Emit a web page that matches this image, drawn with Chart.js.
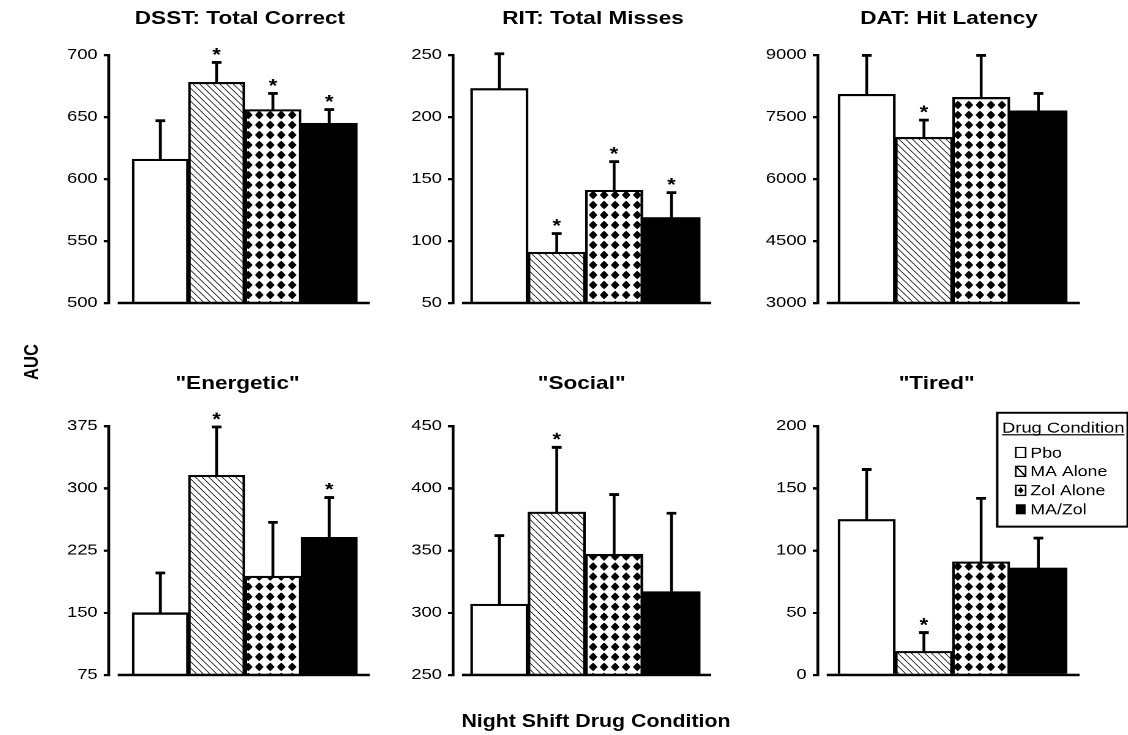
<!DOCTYPE html>
<html><head><meta charset="utf-8">
<script src="https://cdn.jsdelivr.net/npm/chart.js@4.4.1/dist/chart.umd.min.js"></script>
<style>
html,body{margin:0;padding:0;background:#fff;overflow:hidden;width:1128px;height:735px;}
#stage{position:absolute;left:0;top:0;width:925px;height:735px;transform:scaleX(1.22);transform-origin:0 0;
  font-family:"Liberation Sans",Arial,Helvetica,sans-serif;color:#000;}
.ttl{position:absolute;font-weight:bold;font-size:18.5px;white-space:nowrap;transform:translate(-50%,-50%);line-height:1;}
canvas{position:absolute;}
</style></head>
<body><div id="stage">
<div class="ttl" style="left:196.7px;top:18px">DSST: Total Correct</div>
<div class="ttl" style="left:486.1px;top:18px">RIT: Total Misses</div>
<div class="ttl" style="left:777.9px;top:18px">DAT: Hit Latency</div>
<div class="ttl" style="left:194.7px;top:383px">"Energetic"</div>
<div class="ttl" style="left:476.8px;top:383px">"Social"</div>
<div class="ttl" style="left:767.8px;top:383px">"Tired"</div>
<div class="ttl" style="left:24.6px;top:362px;font-size:16.5px;transform:translate(-50%,-50%) rotate(-90deg)">AUC</div>
<div class="ttl" style="left:488.5px;top:722px;font-size:17.5px">Night Shift Drug Condition</div>
</div>
<script>
// ---- data ----
const categories = ['Pbo', 'MA Alone', 'Zol Alone', 'MA/Zol'];

const dsstMean = [616, 678, 656, 645];
const dsstSem  = [31, 16, 13, 11];
const dsstSig  = [0, 1, 1, 1];
const dsstTicks = [500, 550, 600, 650, 700];

const ritMean = [223, 91, 141, 119];
const ritSem  = [28, 15, 23, 20];
const ritSig  = [0, 1, 1, 1];
const ritTicks = [50, 100, 150, 200, 250];

const datMean = [8050, 7010, 7975, 7650];
const datSem  = [940, 415, 1015, 420];
const datSig  = [0, 1, 0, 0];
const datTicks = [3000, 4500, 6000, 7500, 9000];

const energeticMean = [150, 316, 194, 241];
const energeticSem  = [48, 58, 65, 48];
const energeticSig  = [0, 1, 0, 1];
const energeticTicks = [75, 150, 225, 300, 375];

const socialMean = [307, 381, 347, 317];
const socialSem  = [55, 52, 48, 63];
const socialSig  = [0, 1, 0, 0];
const socialTicks = [250, 300, 350, 400, 450];

const tiredMean = [125, 19, 91, 86];
const tiredSem  = [40, 15, 51, 24];
const tiredSig  = [0, 1, 0, 0];
const tiredTicks = [0, 50, 100, 150, 200];

const legendTitle = 'Drug Condition';

// ---- layout (design units; stage is stretched horizontally) ----
const FONT = '"Liberation Sans", Arial, Helvetica, sans-serif';
const DPR = 2;
const YW = 70, PT = 25, PB = 15;
const cols = [
  {xa: 88.52, cw: 214.75, xmin: -0.919, xmax: 3.718},
  {xa: 371.31, cw: 211.48, xmin: -0.809, xmax: 3.692},
  {xa: 670.49, cw: 214.18, xmin: -0.856, xmax: 3.72}
];
const rows = [{yt: 54.5, ch: 248}, {yt: 426, ch: 248.5}];

// ---- patterns ----
function makeHatch() {
  const c = document.createElement('canvas');
  c.width = 11; c.height = 13;           // device pixels (DPR 2)
  const g = c.getContext('2d');
  g.fillStyle = '#fff'; g.fillRect(0, 0, c.width, c.height);
  g.strokeStyle = '#000'; g.lineWidth = 1.4;
  for (const k of [-c.width, 0, c.width]) {
    g.beginPath(); g.moveTo(k, 0); g.lineTo(k + c.width, c.height); g.stroke();
  }
  const p = g.createPattern(c, 'repeat');
  p.setTransform(new DOMMatrix().scale(1 / DPR));
  return p;
}
function makeDiamonds() {
  const c = document.createElement('canvas');
  c.width = 18; c.height = 20;
  const g = c.getContext('2d');
  g.fillStyle = '#fff'; g.fillRect(0, 0, c.width, c.height);
  g.fillStyle = '#000';
  const cx = c.width / 2, cy = c.height / 2, rx = 7.0, ry = 8.4, k = 0.35;
  g.beginPath();
  g.moveTo(cx, cy - ry);
  g.quadraticCurveTo(cx + rx * k * 1.6, cy - ry * k * 1.6, cx + rx, cy);
  g.quadraticCurveTo(cx + rx * k * 1.6, cy + ry * k * 1.6, cx, cy + ry);
  g.quadraticCurveTo(cx - rx * k * 1.6, cy + ry * k * 1.6, cx - rx, cy);
  g.quadraticCurveTo(cx - rx * k * 1.6, cy - ry * k * 1.6, cx, cy - ry);
  g.closePath(); g.fill();
  const p = g.createPattern(c, 'repeat');
  p.setTransform(new DOMMatrix().scale(1 / DPR));
  return p;
}
const fills = ['#ffffff', makeHatch(), makeDiamonds(), '#000000'];

// ---- legend drawing ----
function drawLegend(ctx, left, top) {
  ctx.save();
  ctx.fillStyle = '#fff';
  ctx.fillRect(left, top, 106.6, 113.5);
  ctx.strokeStyle = '#000'; ctx.lineWidth = 2;
  ctx.strokeRect(left, top, 106.6, 113.5);
  ctx.fillStyle = '#000';
  ctx.font = '15px ' + FONT;
  ctx.textAlign = 'left'; ctx.textBaseline = 'alphabetic';
  const tx = left + 3.9, ty = top + 19.8;
  ctx.fillText(legendTitle, tx, ty);
  const tw = ctx.measureText(legendTitle).width;
  ctx.lineWidth = 1.2;
  ctx.beginPath(); ctx.moveTo(tx, ty + 2.2); ctx.lineTo(tx + tw, ty + 2.2); ctx.stroke();
  const rowY = [39.6, 58.3, 77.3, 96.3];
  ctx.font = '14.5px ' + FONT;
  categories.forEach((name, i) => {
    const cy = top + rowY[i];
    const sx = left + 15.2, sw = 8, sh = 10;
    const sy = cy - sh / 2;
    ctx.lineWidth = 1.3;
    if (i === 3) { ctx.fillStyle = '#000'; ctx.fillRect(sx, sy, sw, sh); }
    else {
      ctx.fillStyle = '#fff'; ctx.fillRect(sx, sy, sw, sh);
      ctx.strokeStyle = '#000'; ctx.strokeRect(sx, sy, sw, sh);
      if (i === 1) { ctx.beginPath(); ctx.moveTo(sx, sy); ctx.lineTo(sx + sw, sy + sh); ctx.stroke(); }
      if (i === 2) {
        ctx.fillStyle = '#000';
        ctx.beginPath(); ctx.moveTo(sx + sw / 2, sy + 1.8); ctx.lineTo(sx + sw - 1.6, cy); ctx.lineTo(sx + sw / 2, sy + sh - 1.8); ctx.lineTo(sx + 1.6, cy); ctx.closePath(); ctx.fill();
      }
    }
    ctx.fillStyle = '#000';
    ctx.fillText(name, left + 27.1, cy + 5.2);
  });
  ctx.restore();
}

// ---- panels ----
const panels = [
  {mean: dsstMean, sem: dsstSem, sig: dsstSig, ticks: dsstTicks, col: 0, row: 0},
  {mean: ritMean, sem: ritSem, sig: ritSig, ticks: ritTicks, col: 1, row: 0},
  {mean: datMean, sem: datSem, sig: datSig, ticks: datTicks, col: 2, row: 0},
  {mean: energeticMean, sem: energeticSem, sig: energeticSig, ticks: energeticTicks, col: 0, row: 1},
  {mean: socialMean, sem: socialSem, sig: socialSig, ticks: socialTicks, col: 1, row: 1},
  {mean: tiredMean, sem: tiredSem, sig: tiredSig, ticks: tiredTicks, col: 2, row: 1, legend: true}
];

const stage = document.getElementById('stage');
panels.forEach(p => {
  const col = cols[p.col], row = rows[p.row];
  const PR = p.legend ? 40 : 10;
  const left = col.xa - YW, top = row.yt - PT;
  const W = YW + col.cw + PR, H = PT + row.ch + PB;
  const cv = document.createElement('canvas');
  cv.style.left = left + 'px'; cv.style.top = top + 'px';
  cv.style.width = W + 'px'; cv.style.height = H + 'px';
  cv.width = W; cv.height = H;
  stage.appendChild(cv);

  const overlay = {
    id: 'overlay',
    afterDatasetsDraw(chart) {
      const ctx = chart.ctx, y = chart.scales.y, area = chart.chartArea;
      const meta = chart.getDatasetMeta(0);
      ctx.save();
      ctx.strokeStyle = '#000'; ctx.fillStyle = '#000';
      // x baseline (starts a little right of the y axis)
      ctx.lineWidth = 2.6;
      ctx.beginPath(); ctx.moveTo(area.left + 7.4, area.bottom); ctx.lineTo(area.right, area.bottom); ctx.stroke();
      meta.data.forEach((bar, i) => {
        const x = bar.x;
        const y0 = y.getPixelForValue(p.mean[i]);
        const y1 = y.getPixelForValue(p.mean[i] + p.sem[i]);
        ctx.lineWidth = 2.3;
        ctx.beginPath(); ctx.moveTo(x, y0); ctx.lineTo(x, y1); ctx.stroke();
        ctx.lineWidth = 2.8;
        ctx.beginPath(); ctx.moveTo(x - 4, y1); ctx.lineTo(x + 4, y1); ctx.stroke();
        if (p.sig[i]) {
          ctx.font = 'bold 18px ' + FONT;
          ctx.textAlign = 'center'; ctx.textBaseline = 'alphabetic';
          ctx.fillText('*', x, y1 - 1.5);
        }
      });
      ctx.restore();
    },
    afterDraw(chart) {
      if (p.legend) {
        drawLegend(chart.ctx, 817.2 - left, 412.7 - top);
      }
    }
  };

  new Chart(cv, {
    type: 'bar',
    data: {
      datasets: [{
        data: p.mean.map((v, i) => ({x: i, y: v})),
        backgroundColor: fills,
        borderColor: '#000',
        borderWidth: 2.2,
        borderSkipped: 'bottom',
        barPercentage: 1,
        categoryPercentage: 1
      }]
    },
    options: {
      responsive: false,
      animation: false,
      devicePixelRatio: DPR,
      events: [],
      layout: {padding: {top: PT, bottom: PB, left: 0, right: PR}},
      plugins: {legend: {display: false}, tooltip: {enabled: false}, title: {display: false}},
      scales: {
        x: {type: 'linear', display: false, offset: false, min: col.xmin, max: col.xmax},
        y: {
          min: p.ticks[0], max: p.ticks[p.ticks.length - 1], beginAtZero: false,
          afterBuildTicks: s => { s.ticks = p.ticks.map(v => ({value: v})); },
          afterFit: s => { s.width = YW; },
          border: {display: true, color: '#000', width: 2.3},
          grid: {drawOnChartArea: false, drawTicks: true, tickLength: 4, color: '#000', lineWidth: 2.3},
          ticks: {color: '#000', font: {family: FONT, size: 15}, padding: 5, autoSkip: false,
                  callback: v => String(v)}
        }
      }
    },
    plugins: [overlay]
  });
});
</script>
</body></html>
